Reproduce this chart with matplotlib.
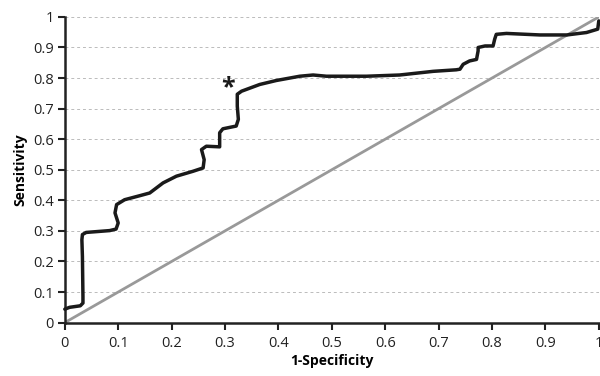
import matplotlib
matplotlib.use("Agg")
import matplotlib.pyplot as plt

# ROC curve points
fpr = [0.0, 0.009, 0.029, 0.034, 0.034, 0.033, 0.032, 0.033, 0.040, 0.084, 0.096,
       0.100, 0.094, 0.097, 0.112, 0.140, 0.159, 0.184, 0.209, 0.240, 0.259,
       0.261, 0.256, 0.265, 0.290, 0.290, 0.296, 0.321, 0.325, 0.323, 0.323,
       0.331, 0.365, 0.396, 0.440, 0.465, 0.490, 0.565, 0.627, 0.690, 0.733,
       0.740, 0.746, 0.758, 0.771, 0.774, 0.774, 0.787, 0.802, 0.805, 0.808,
       0.827, 0.890, 0.940, 0.977, 0.998, 1.0]
tpr = [0.044, 0.050, 0.055, 0.064, 0.085, 0.216, 0.271, 0.288, 0.295, 0.301, 0.306,
       0.326, 0.359, 0.386, 0.402, 0.415, 0.424, 0.457, 0.479, 0.495, 0.506,
       0.533, 0.566, 0.577, 0.575, 0.621, 0.634, 0.643, 0.665, 0.708, 0.747,
       0.757, 0.779, 0.792, 0.806, 0.810, 0.806, 0.806, 0.810, 0.822, 0.827,
       0.829, 0.845, 0.856, 0.861, 0.889, 0.900, 0.905, 0.905, 0.927, 0.943,
       0.946, 0.941, 0.941, 0.949, 0.960, 0.987]

ref_x = [0, 1]
ref_y = [0, 1]

ticks = [0, 0.1, 0.2, 0.3, 0.4, 0.5, 0.6, 0.7, 0.8, 0.9, 1]
tick_labels = ["0", "0.1", "0.2", "0.3", "0.4", "0.5", "0.6", "0.7", "0.8", "0.9", "1"]

# optimal cut-off marker
star_x, star_y = 0.305, 0.77

plt.rcParams['font.family'] = ['Open Sans', 'DejaVu Sans']

fig = plt.figure(figsize=(6, 3.76), dpi=100)
ax = fig.add_axes([0.108, 0.142, 0.89, 0.813])

for t in ticks[1:]:
    ax.axhline(t, color="#bbbbbb", lw=0.7, ls=(0, (3, 3)), zorder=0)

ax.plot(ref_x, ref_y, color="#999999", lw=2, zorder=2, solid_capstyle="butt")
ax.plot(fpr, tpr, color="#1a1a1a", lw=2.5, zorder=3,
        solid_joinstyle="round", solid_capstyle="round", clip_on=False)
ax.text(star_x, star_y, "*", fontsize=18, fontweight="bold", ha="center",
        va="center", color="#1a1a1a")

ax.set_xlim(0, 1)
ax.set_ylim(0, 1)
ax.set_xticks(ticks)
ax.set_xticklabels(tick_labels)
ax.set_yticks(ticks)
ax.set_yticklabels(tick_labels)
ax.tick_params(labelsize=10.5, colors="#222222", length=5, width=1.5, direction="out")
ax.tick_params(axis="x", pad=5)
ax.tick_params(axis="y", pad=3)

for s in ["top", "right"]:
    ax.spines[s].set_visible(False)
for s in ["left", "bottom"]:
    ax.spines[s].set_linewidth(1.8)
    ax.spines[s].set_color("#222222")

ax.set_xlabel("1-Specificity", fontsize=10, fontweight="bold", labelpad=2)
ax.set_ylabel("Sensitivity", fontsize=10, fontweight="bold", labelpad=4)

fig.savefig("out.png", dpi=100)
